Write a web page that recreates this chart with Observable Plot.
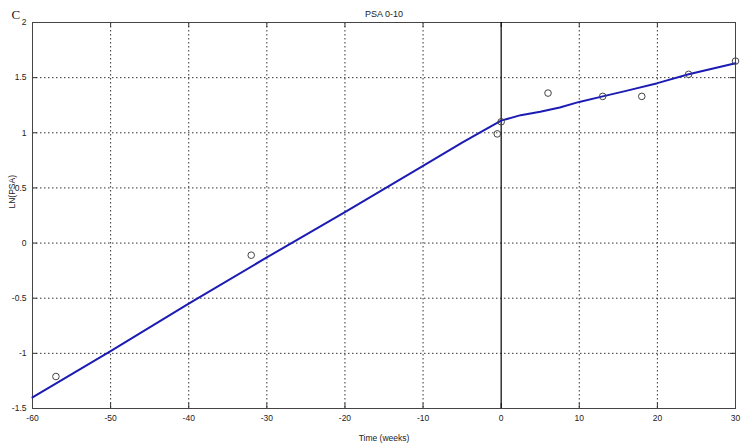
<!DOCTYPE html>
<html><head><meta charset="utf-8">
<script src="https://cdn.jsdelivr.net/npm/d3@7"></script>
<script src="https://cdn.jsdelivr.net/npm/@observablehq/plot@0.6"></script>
<style>
body{margin:0;background:#fff}
#chart svg{font-family:"Liberation Sans Narrow","Liberation Sans",Arial,sans-serif}
</style>
</head><body><div id="chart"></div>
<script>
// Fitted curve (weeks, ln PSA)
const fitWeeks = [-60, -50, -40, -30, -20, -10, -5, -2, 0, 2.5, 5, 7.5, 10, 13, 16, 20, 24, 27, 30];
const fitLnPsa = [-1.40, -0.98, -0.55, -0.13, 0.28, 0.70, 0.91, 1.03, 1.11, 1.16, 1.19, 1.23, 1.28, 1.33, 1.38, 1.45, 1.53, 1.58, 1.63];
// Observations
const obsWeeks = [-57, -32, -0.5, 0, 6, 13, 18, 24, 30];
const obsLnPsa = [-1.21, -0.11, 0.99, 1.10, 1.36, 1.33, 1.33, 1.53, 1.65];
// Ticks
const xTicks = [-60, -50, -40, -30, -20, -10, 0, 10, 20, 30];
const yTicks = [-1.5, -1, -0.5, 0, 0.5, 1, 1.5, 2];
const yTickLabels = ["-1.5", "-1", "-0.5", "0", "0.5", "1", "1.5", "2"];
const xTickLabels = ["-60", "-50", "-40", "-30", "-20", "-10", "0", "10", "20", "30"];

const fit = fitWeeks.map((w, i) => ({w, v: fitLnPsa[i]}));
const obs = obsWeeks.map((w, i) => ({w, v: obsLnPsa[i]}));
const innerX = xTicks.filter(d => d !== xTicks[0] && d !== xTicks[xTicks.length - 1] && d !== 0);
const innerY = yTicks.filter(d => d !== yTicks[0] && d !== yTicks[yTicks.length - 1]);

const W = 743, H = 444, mL = 32, mR = 8, mT = 22, mB = 36;
const fw = W - mL - mR, fh = H - mT - mB, tk = 5;

const chart = Plot.plot({
  width: W, height: H,
  marginLeft: mL, marginRight: mR, marginTop: mT, marginBottom: mB,
  style: {fontSize: "8.5px", color: "#222", background: "#fff"},
  x: {domain: [-60, 30]},
  y: {domain: [-1.5, 2]},
  marks: [
    Plot.gridX(innerX, {stroke: "#333", strokeOpacity: 1, strokeDasharray: "1.5,2.5"}),
    Plot.gridY(innerY, {stroke: "#333", strokeOpacity: 1, strokeDasharray: "1.5,2.5"}),
    Plot.ruleX(xTicks, {x: d => d, insetTop: fh - tk, stroke: "#333"}),
    Plot.ruleX(xTicks, {x: d => d, insetBottom: fh - tk, stroke: "#333"}),
    Plot.ruleY(yTicks, {y: d => d, insetRight: fw - tk, stroke: "#333"}),
    Plot.ruleY(yTicks, {y: d => d, insetLeft: fw - tk, stroke: "#333"}),
    Plot.frame({stroke: "#444"}),
    Plot.ruleX([0], {stroke: "#000", strokeWidth: 1.2}),
    Plot.axisX(xTicks, {tickSize: 0, tickPadding: 6, tickFormat: d => xTickLabels[xTicks.indexOf(d)],
      label: "Time (weeks)", labelAnchor: "center", labelOffset: 32, labelArrow: "none"}),
    Plot.axisY(yTicks, {tickSize: 0, tickPadding: 6, tickFormat: d => yTickLabels[yTicks.indexOf(d)], label: null}),
    Plot.text(["LN(PSA)"], {frameAnchor: "left", dx: -20, dy: -7, rotate: -90, fontSize: 8.5}),
    Plot.text(["PSA 0-10"], {frameAnchor: "top", dy: -12, fontSize: 9}),
    Plot.text(["C"], {frameAnchor: "top-left", dx: -21, dy: -13, fontSize: 13, fontFamily: "Liberation Serif, serif"}),
    Plot.line(fit, {x: "w", y: "v", stroke: "#1c1cb4", strokeWidth: 2, curve: "linear"}),
    Plot.dot(obs, {x: "w", y: "v", r: 3.3, stroke: "#444", strokeWidth: 1, fill: "none"})
  ]
});
document.getElementById("chart").appendChild(chart);
</script>
</body></html>
